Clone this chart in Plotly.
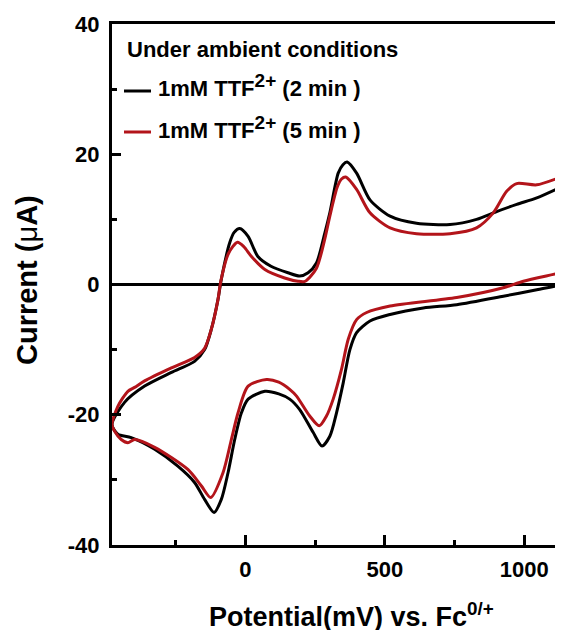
import plotly.graph_objects as go

# ---------------- data ----------------
# 1mM TTF2+ (2 min): potential (mV vs Fc0/+) and current (uA), one full CV loop
E_2MIN = [-478, -433, -361, -265, -182, -146, -122, -98, -86, -56, -40, -20, 10, 45, 92, 153, 195, 225,
          255, 285, 303, 333, 350, 365, 399, 447, 519, 614, 734, 829, 901, 973, 1045, 1139, 1160,
          1160, 1139, 1045, 925, 758, 638, 519, 447, 399, 375, 351, 327, 303, 275, 243, 195, 159, 120,
          70, 10, -14, -38, -62, -86, -112, -146, -182, -242, -325, -409, -457, -478]
I_2MIN = [-21.5, -18.1, -15.6, -13.5, -11.8, -10.0, -6.9, -2.3, 0.8, 6.4, 8.0, 8.6, 7.4, 4.3, 2.8, 1.8, 1.3, 1.8,
          3.3, 7.9, 11.0, 17.1, 18.4, 18.8, 17.1, 13.0, 10.5, 9.4, 9.2, 10.0, 11.2, 12.3, 13.3, 15.1, 15.5,
          0.3, 0.0, -0.8, -1.8, -3.1, -3.6, -4.6, -5.6, -7.4, -10.0, -15.1, -19.7, -23.3, -24.8, -22.7, -19.2, -17.6, -16.8,
          -16.4, -17.6, -19.7, -23.8, -28.9, -33.0, -35.0, -33.0, -30.4, -27.9, -25.3, -23.5, -23.0, -21.5]

# 1mM TTF2+ (5 min)
E_5MIN = [-478, -457, -421, -397, -361, -265, -182, -146, -122, -98, -88, -60, -28, -5, 22, 70, 141, 189, 215,
          255, 285, 303, 330, 345, 360, 399, 447, 519, 614, 734, 829, 889, 937, 973, 1045, 1139, 1160,
          1160, 1139, 997, 925, 758, 519, 435, 399, 369, 345, 315, 291, 265, 231, 183, 159, 120,
          76, 10, -26, -50, -80, -124, -158, -206, -325, -397, -421, -445, -469, -478]
I_5MIN = [-21.5, -18.7, -16.4, -15.8, -14.8, -12.8, -11.2, -9.8, -6.9, -2.3, 0.5, 4.8, 6.5, 5.8, 4.3, 2.3, 1.0, 0.5, 0.5,
          2.5, 7.0, 10.5, 15.0, 16.2, 16.5, 14.6, 11.0, 8.7, 7.8, 7.8, 8.7, 11.0, 14.3, 15.5, 15.3, 16.6, 16.9,
          2.2, 1.9, 0.5, -0.5, -2.0, -3.3, -4.3, -5.4, -8.4, -13.0, -17.6, -20.2, -21.7, -20.2, -17.1, -16.1, -15.0,
          -14.6, -15.6, -19.7, -23.8, -28.9, -32.7, -30.9, -28.4, -25.0, -23.8, -24.3, -23.8, -22.5, -21.5]

SUP = "<sup><span style='font-size:19px'>2+</span></sup>"
SERIES_NAMES = ["1mM TTF" + SUP + " (2 min )", "1mM TTF" + SUP + " (5 min )"]
LEGEND_TITLE = "Under ambient conditions"

X_TICKS = [0, 500, 1000]
X_TICK_TEXT = ["0", "500", "1000"]
X_MINOR = [-250, 250, 750]
Y_TICKS = [-40, -20, 0, 20, 40]
Y_TICK_TEXT = ["-40", "-20", "0", "20", "40"]
Y_MINOR = [-30, -10, 10, 30]

X_TITLE = "Potential(mV) vs. Fc<sup>0/+</sup>"
Y_TITLE = "Current (<span style='font-weight:normal'>μ</span>A)"

# ---------------- styling ----------------
FONT = "Liberation Sans, Arial, sans-serif"
COLORS = ["#000000", "#B3141A"]
LW = 3

OFF = 8  # the page body margin shifts the figure by 8 px right and down
W, H = 563 - OFF, 630 - OFF
ML, MR, MT, MB = 112 - OFF, 0, 24 - OFF, H - (545 - OFF)
PW, PH = W - ML - MR, H - MT - MB


def px_x(px):
    """page pixel x -> paper coordinate"""
    return (px - OFF - ML) / PW


def px_y(py):
    """page pixel y -> paper coordinate"""
    return (H - MB - (py - OFF)) / PH


fig = go.Figure()
for E, I, name, col in [(E_2MIN, I_2MIN, SERIES_NAMES[0], COLORS[0]),
                        (E_5MIN, I_5MIN, SERIES_NAMES[1], COLORS[1])]:
    fig.add_trace(go.Scatter(x=E, y=I, mode="lines", name=name, showlegend=False,
                             line=dict(color=col, width=LW, shape="spline", smoothing=0.75)))

bold = dict(family=FONT, color="black", weight="bold")

annotations = [
    dict(text=LEGEND_TITLE, x=px_x(125), y=px_y(49), xref="paper", yref="paper",
         xanchor="left", yanchor="middle", showarrow=False, font=dict(size=22, **bold)),
    dict(text=SERIES_NAMES[0], x=px_x(156), y=px_y(86), xref="paper", yref="paper",
         xanchor="left", yanchor="middle", showarrow=False, font=dict(size=22, **bold)),
    dict(text=SERIES_NAMES[1], x=px_x(156), y=px_y(127), xref="paper", yref="paper",
         xanchor="left", yanchor="middle", showarrow=False, font=dict(size=22, **bold)),
    dict(text=X_TITLE, x=px_x(351), y=px_y(615), xref="paper", yref="paper",
         xanchor="center", yanchor="middle", showarrow=False, font=dict(size=27, **bold)),
    dict(text=Y_TITLE, x=px_x(27), y=px_y(280), xref="paper", yref="paper", textangle=-90,
         xanchor="center", yanchor="middle", showarrow=False, font=dict(size=29, **bold)),
]

shapes = [
    dict(type="line", xref="paper", yref="paper", x0=px_x(124), x1=px_x(151), y0=px_y(91), y1=px_y(91),
         line=dict(color=COLORS[0], width=LW)),
    dict(type="line", xref="paper", yref="paper", x0=px_x(124), x1=px_x(151), y0=px_y(132), y1=px_y(132),
         line=dict(color=COLORS[1], width=LW)),
]

fig.update_layout(
    width=W, height=H, margin=dict(l=ML, r=MR, t=MT, b=MB, autoexpand=False),
    paper_bgcolor="white", plot_bgcolor="white", showlegend=False,
    annotations=annotations, shapes=shapes,
    xaxis=dict(range=[-478, 1139], showline=True, linewidth=3, linecolor="black", mirror=True,
               showgrid=False, zeroline=False, ticks="inside", ticklen=10, tickwidth=3, tickcolor="black",
               tickvals=X_TICKS, ticktext=X_TICK_TEXT, tickfont=dict(size=22, **bold),
               ticklabelstandoff=3,
               minor=dict(ticks="inside", ticklen=5, tickwidth=3, tickcolor="black", tickvals=X_MINOR,
                          showgrid=False)),
    yaxis=dict(range=[-40, 40], showline=True, linewidth=3, linecolor="black", mirror=False,
               showgrid=False, zeroline=True, zerolinecolor="black", zerolinewidth=2.5,
               ticks="inside", ticklen=9, tickwidth=3, tickcolor="black",
               tickvals=Y_TICKS, ticktext=Y_TICK_TEXT, tickfont=dict(size=22, **bold),
               ticklabelstandoff=5,
               minor=dict(ticks="inside", ticklen=5, tickwidth=3, tickcolor="black", tickvals=Y_MINOR,
                          showgrid=False)),
)

fig.write_html("out.html")
